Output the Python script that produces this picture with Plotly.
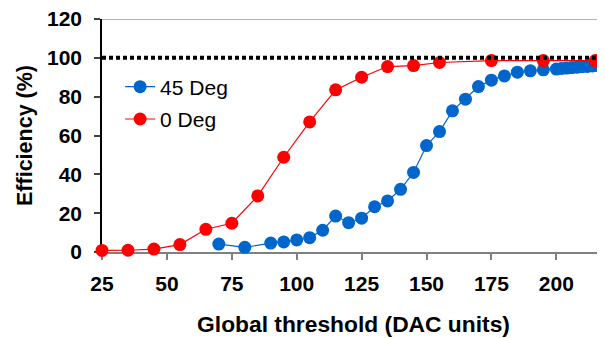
import plotly.graph_objects as go

# Data
x_45 = [70, 80, 90, 95, 100, 105, 110, 115, 120, 125, 130, 135, 140, 145, 150,
        155, 160, 165, 170, 175, 180, 185, 190, 195, 200, 202, 204, 206, 208,
        210, 212, 214, 216, 218, 220]
y_45 = [4.1, 2.4, 4.6, 5.2, 6.2, 7.4, 11.2, 18.5, 15.1, 17.4, 23.3, 26.3, 32.3,
        41.0, 54.8, 62.0, 72.7, 78.7, 85.2, 88.5, 90.7, 92.6, 93.3, 93.8, 94.2,
        94.5, 94.7, 95.0, 95.2, 95.4, 95.6, 95.8, 96.0, 96.2, 96.4]

x_0 = [25, 35, 45, 55, 65, 75, 85, 95, 105, 115, 125, 135, 145, 155, 175, 195, 215]
y_0 = [0.8, 0.9, 1.5, 3.8, 11.7, 14.8, 28.9, 48.8, 67.0, 83.5, 90.0, 95.5, 96.0,
       97.6, 98.6, 98.6, 98.6]

x_ticks = [25, 50, 75, 100, 125, 150, 175, 200]
y_ticks = [0, 20, 40, 60, 80, 100, 120]
ref_level = 100
y_max = 120

FONT = "Liberation Sans, Arial, sans-serif"

fig = go.Figure()
fig.add_trace(go.Scatter(
    x=x_45, y=y_45, name="45 Deg", mode="lines+markers",
    line=dict(color="#0066CC", width=1.2),
    marker=dict(color="#0066CC", size=13),
    cliponaxis=False, legendgroup="a",
))
fig.add_trace(go.Scatter(
    x=x_0, y=y_0, name="0 Deg", mode="lines+markers",
    line=dict(color="#FF0000", width=1.2),
    marker=dict(color="#FF0000", size=13),
    cliponaxis=False, legendgroup="b",
))

# top border line of the plot area
fig.add_shape(type="line", xref="paper", x0=0, x1=1, yref="y",
              y0=y_max, y1=y_max,
              line=dict(color="#999999", width=1.5), layer="below")
# dotted 100 % reference line
fig.add_shape(type="line", xref="paper", x0=0, x1=1, yref="y",
              y0=ref_level, y1=ref_level,
              line=dict(color="black", width=4, dash="4px,3px"), layer="above")

# page body adds an 8px offset, so the figure is 597x330
fig.update_layout(
    width=597, height=330,
    margin=dict(l=94, r=0, t=11, b=86, autoexpand=False),
    paper_bgcolor="white", plot_bgcolor="white",
    font=dict(family=FONT, color="black"),
    showlegend=True,
    legend=dict(x=0.036, y=0.796, xanchor="left", yanchor="top",
                font=dict(size=21, family=FONT), bgcolor="rgba(0,0,0,0)",
                traceorder="grouped", tracegroupgap=2),
    xaxis=dict(
        range=[25, 218.75], tickvals=x_ticks, showgrid=False, zeroline=False,
        showline=True, linecolor="#808080", linewidth=2,
        ticks="outside", ticklen=6, tickcolor="#808080", tickwidth=1.5,
        tickfont=dict(size=21, family=FONT, weight="bold"),
        ticklabelstandoff=6, automargin=False, ticklabeloverflow="allow",
        title=dict(text="Global threshold (DAC units)",
                   font=dict(size=22.8, family=FONT, weight="bold"), standoff=22),
        layer="below traces",
    ),
    yaxis=dict(
        range=[0, y_max], tickvals=y_ticks, showgrid=False, zeroline=False,
        showline=True, linecolor="black", linewidth=1.5,
        ticks="outside", ticklen=6, tickcolor="#404040", tickwidth=1.5,
        tickfont=dict(size=21, family=FONT, weight="bold"),
        ticklabelstandoff=8, automargin=False, ticklabeloverflow="allow",
        title=dict(text="Efficiency (%)",
                   font=dict(size=21.5, family=FONT, weight="bold"), standoff=8),
        layer="below traces",
    ),
)

fig.write_html("out.html")
